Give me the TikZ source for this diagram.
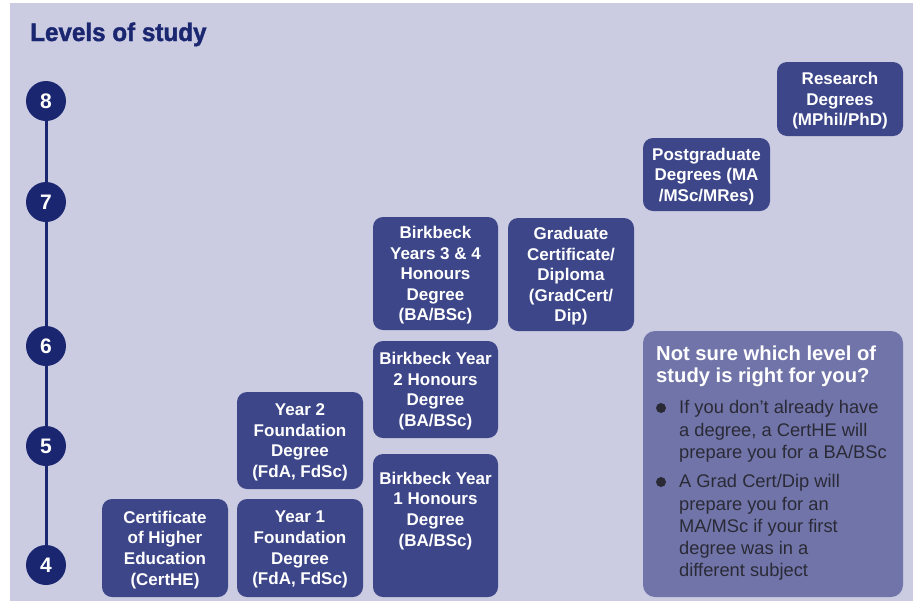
\documentclass[tikz,border=0pt]{standalone}
\usepackage{fontspec}
\setmainfont{Liberation Sans}
\newfontfamily\titlefont[FakeBold=1.6,FakeStretch=0.95]{Liberation Sans Bold}
\definecolor{bgc}{HTML}{CBCCE1}
\definecolor{navy}{HTML}{1B2670}
\definecolor{boxc}{HTML}{3D4688}
\definecolor{infoc}{HTML}{7174A9}
\definecolor{txtc}{HTML}{2A2A36}
\tikzset{
  box/.style={fill=boxc, rounded corners=10pt, text=white, align=center, inner sep=0pt,
    text depth=0pt, font=\fontsize{17}{20.6}\selectfont\bfseries},
  lvl/.style={circle, fill=navy, text=white, minimum size=40pt, inner sep=0pt,
    font=\fontsize{21}{21}\selectfont\bfseries},
  tline/.style={draw=navy, line width=3pt},
  bul/.style={circle, fill=txtc, minimum size=10pt, inner sep=0pt},
  btext/.style={anchor=north west, inner sep=0pt, align=left, text=txtc,
    font=\fontsize{18.3}{22.2}\selectfont}
}
\begin{document}
\begin{tikzpicture}[x=1pt,y=-1pt]
\useasboundingbox (0,0) rectangle (913,606);
\fill[bgc] (10,3) rectangle (913,601);
\node[anchor=base west, inner sep=0pt, text=navy, font=\fontsize{25.5}{24}\titlefont] (title) at (30,41) {Levels of study};
% levels
\node[lvl] (l8) at (46,101) {8};
\node[lvl] (l7) at (46,202) {7};
\node[lvl] (l6) at (46,346) {6};
\node[lvl] (l5) at (46,446) {5};
\node[lvl] (l4) at (46,565) {4};
\draw[tline] (l8.south) -- (l7.north);
\draw[tline] (l7.south) -- (l6.north);
\draw[tline] (l6.south) -- (l5.north);
\draw[tline] (l5.south) -- (l4.north);
% boxes
\node[box, minimum width=126pt, minimum height=74pt] (research) at (840,99) {Research\\Degrees\\(MPhil/PhD)};
\node[box, minimum width=127pt, minimum height=73pt] (postgrad) at (706.5,174.5) {Postgraduate\\Degrees (MA\\/MSc/MRes)};
\node[box, minimum width=125pt, minimum height=113pt] (bb34) at (435.5,273.5) {Birkbeck\\Years 3 \& 4\\Honours\\Degree\\(BA/BSc)};
\node[box, minimum width=126pt, minimum height=113pt] (grad) at (571,274.5) {Graduate\\Certificate/\\Diploma\\(GradCert/\\Dip)};
\node[box, minimum width=125pt, minimum height=97pt] (bb2) at (435.5,389.5) {Birkbeck Year\\2 Honours\\Degree\\(BA/BSc)};
\node[box, minimum width=125pt, minimum height=143pt] (bb1) at (435.5,525.5) {};
\node[box, fill=none, anchor=north] (bb1t) at ([yshift=-18pt]bb1.north) {Birkbeck Year\\1 Honours\\Degree\\(BA/BSc)};
\node[box, minimum width=126pt, minimum height=97pt] (fd2) at (300,440.5) {Year 2\\Foundation\\Degree\\(FdA, FdSc)};
\node[box, minimum width=126pt, minimum height=98pt] (fd1) at (300,548) {Year 1\\Foundation\\Degree\\(FdA, FdSc)};
\node[box, minimum width=126pt, minimum height=98pt] (cert) at (165,548) {Certificate\\of Higher\\Education\\(CertHE)};
% info box
\node[fill=infoc, rounded corners=12pt, minimum width=260pt, minimum height=266pt, inner sep=0pt] (info) at (773,464) {};
\node[anchor=north west, inner sep=0pt, align=left, text=white,
  font=\fontsize{20.2}{22}\selectfont\bfseries] (head) at (656,346) {Not sure which level of\\study is right for you?};
\node[bul] (b1) at (661,408) {};
\node[btext] (t1) at (679,400.5) {If you don’t already have\\a degree, a CertHE will\\prepare you for a BA/BSc};
\node[bul] (b2) at (661,482) {};
\node[btext] (t2) at (679,474.5) {A Grad Cert/Dip will\\prepare you for an\\MA/MSc if your first\\degree was in a\\different subject};
\end{tikzpicture}
\end{document}
